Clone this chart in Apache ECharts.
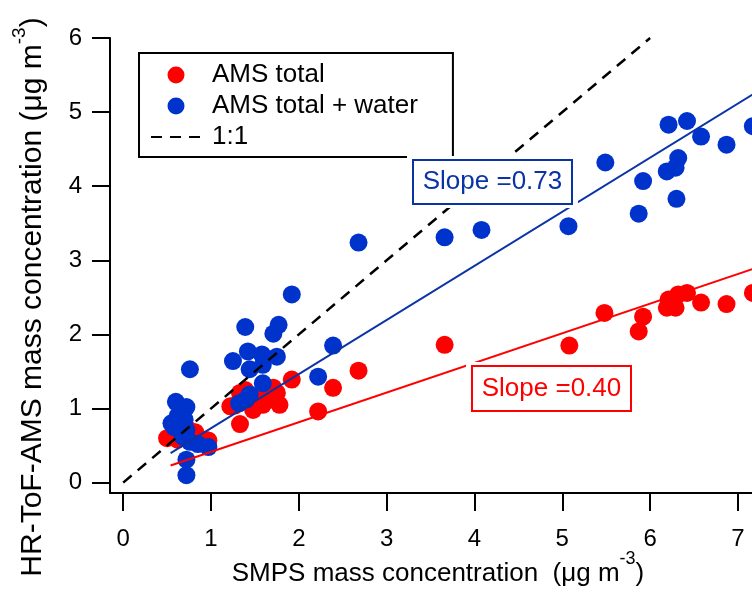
<!DOCTYPE html>
<html><head><meta charset="utf-8">
<script src="https://cdn.jsdelivr.net/npm/echarts@6/dist/echarts.min.js"></script>
<style>html,body{margin:0;padding:0;background:#fff}#c{width:752px;height:596px}</style>
</head><body><div id="c"></div>
<script>
// ---- data ----
const xTicks = [0, 1, 2, 3, 4, 5, 6, 7];
const yTicks = [0, 1, 2, 3, 4, 5, 6];
const seriesNames = ['AMS total', 'AMS total + water', '1:1'];
const amsTotal = [
  [0.50,0.60],[0.55,0.62],[0.62,0.58],[0.70,0.66],[0.75,0.71],[0.82,0.68],[0.93,0.58],[0.97,0.57],[0.65,0.72],
  [1.22,1.03],[1.27,1.04],[1.33,1.21],[1.33,0.79],[1.39,1.25],[1.48,0.98],[1.59,1.05],[1.71,1.28],[1.75,1.21],
  [1.78,1.05],[1.55,1.15],[1.65,1.12],[1.92,1.39],[2.22,0.96],[2.39,1.28],[2.68,1.51],[3.66,1.86],[5.08,1.85],
  [5.48,2.29],[5.87,2.04],[5.92,2.24],[6.19,2.36],[6.21,2.47],[6.29,2.36],[6.32,2.54],[6.42,2.56],[6.58,2.43],
  [6.87,2.41],[7.17,2.56]
];
const amsWater = [
  [0.55,0.80],[0.58,0.75],[0.60,1.09],[0.62,0.90],[0.65,0.70],[0.68,0.62],[0.70,0.85],[0.72,1.02],[0.72,0.71],
  [0.76,1.53],[0.76,0.55],[0.72,0.31],[0.72,0.10],[0.97,0.48],[0.85,0.52],[1.25,1.64],[1.32,1.07],[1.40,1.12],
  [1.44,1.19],[1.39,2.10],[1.42,1.77],[1.44,1.53],[1.58,1.73],[1.59,1.59],[1.59,1.34],[1.71,2.01],[1.75,1.70],
  [1.77,2.13],[1.92,2.54],[2.22,1.43],[2.39,1.85],[2.68,3.24],[3.66,3.31],[4.08,3.41],[5.07,3.46],[5.49,4.32],
  [5.87,3.63],[5.92,4.07],[6.19,4.20],[6.21,4.83],[6.29,4.25],[6.30,3.83],[6.32,4.38],[6.42,4.88],[6.58,4.67],
  [6.87,4.56],[7.17,4.81]
];
const oneToOne = [[0, 0], [6, 6]];
const fitRange = [0.54, 7.6];
const fitRed = {slope: 0.40, intercept: 0.015};
const fitBlue = {slope: 0.73, intercept: 0.005};
const slopeLabels = ['Slope =0.73', 'Slope =0.40'];

// ---- style ----
const RED = '#ff0000', BLUE = '#0033cc', BLUE_D = '#0a33a6';
const FONT = '"Liberation Sans", Arial, sans-serif';
const fitLine = f => fitRange.map(x => [x, f.slope * x + f.intercept]);

const chart = echarts.init(document.getElementById('c'), null, {renderer: 'canvas'});
const axisCommon = {
  type: 'value',
  splitLine: {show: false},
  axisLine: {show: true, onZero: false, lineStyle: {color: '#000', width: 2}},
  axisTick: {show: true, length: 18, lineStyle: {color: '#000', width: 2}},
};
const xTitleRich = {
  m: {fontSize: 26, fontFamily: FONT, color: '#000', lineHeight: 48},
  s: {fontSize: 18, fontFamily: FONT, color: '#000', lineHeight: 18, verticalAlign: 'top'}
};
const yTitleRich = {
  m: {fontSize: 30, fontFamily: FONT, color: '#000', lineHeight: 44},
  s: {fontSize: 19, fontFamily: FONT, color: '#000', lineHeight: 19, verticalAlign: 'top'}
};
function slopeBox(cx, cy, w, h, text, color) {
  return {
    type: 'group', z: 100,
    children: [
      {type: 'rect', z: 100, shape: {x: cx - w / 2 - 6, y: cy - h / 2 - 4, width: w + 12, height: h + 8}, style: {fill: '#fff'}},
      {type: 'rect', z: 101, shape: {x: cx - w / 2, y: cy - h / 2, width: w, height: h}, style: {fill: '#fff', stroke: color, lineWidth: 2}},
      {type: 'text', z: 102, x: cx, y: cy, style: {text: text, fill: color, font: '26px ' + FONT, align: 'center', verticalAlign: 'middle'}}
    ]
  };
}
chart.setOption({
  animation: false,
  backgroundColor: '#fff',
  grid: {left: 110, top: 38, right: 0, height: 455, containLabel: false},
  xAxis: Object.assign({}, axisCommon, {
    min: -0.15, max: 7.16,
    axisLabel: {customValues: xTicks, margin: 34, fontSize: 24, fontFamily: FONT, color: '#000'},
    axisTick: Object.assign({}, axisCommon.axisTick, {customValues: xTicks})
  }),
  yAxis: Object.assign({}, axisCommon, {
    min: -0.14, max: 6,
    axisLabel: {customValues: yTicks, margin: 28, fontSize: 24, fontFamily: FONT, color: '#000'},
    axisTick: Object.assign({}, axisCommon.axisTick, {customValues: yTicks})
  }),
  legend: {
    orient: 'vertical', left: 139, top: 53,
    data: [
      {name: seriesNames[0]},
      {name: seriesNames[1]},
      {name: seriesNames[2], itemStyle: {color: 'rgba(0,0,0,0)', borderWidth: 0, opacity: 0}}
    ],
    borderColor: '#000', borderWidth: 2, borderRadius: 0,
    padding: [9, 35, 7, 11], itemGap: 5,
    itemWidth: 50, itemHeight: 17,
    textStyle: {fontSize: 26, fontFamily: FONT, color: '#000', padding: [0, 0, 0, 6]},
    selectedMode: false
  },
  series: [
    {name: seriesNames[0], type: 'scatter', data: amsTotal, symbol: 'circle', symbolSize: 18, clip: false, itemStyle: {color: RED, opacity: 1}, z: 2},
    {name: seriesNames[1], type: 'scatter', data: amsWater, symbol: 'circle', symbolSize: 18, clip: false, itemStyle: {color: BLUE, opacity: 1}, z: 3},
    {name: seriesNames[2], type: 'line', data: oneToOne, symbol: 'none', clip: false, z: 5, itemStyle: {color: '#000'},
     lineStyle: {color: '#000', width: 2.5, type: [11, 8]}},
    {name: 'fitRed', type: 'line', data: fitLine(fitRed), symbol: 'none', clip: false, z: 5, lineStyle: {color: RED, width: 2}},
    {name: 'fitBlue', type: 'line', data: fitLine(fitBlue), symbol: 'none', clip: false, z: 5, lineStyle: {color: BLUE_D, width: 2}}
  ],
  graphic: [
    slopeBox(492.5, 182, 159, 44, slopeLabels[0], BLUE_D),
    slopeBox(551.5, 388.5, 159, 45, slopeLabels[1], RED),
    {type: 'text', z: 50, x: 438, y: 574, style: {
      text: '{m|SMPS mass concentration  (μg m}{s|-3}{m|)}', rich: xTitleRich, align: 'center', verticalAlign: 'middle'}},
    {type: 'text', z: 50, x: 32.5, y: 297, rotation: Math.PI / 2, style: {
      text: '{m|HR-ToF-AMS mass concentration (μg m}{s|-3}{m|)}', rich: yTitleRich, align: 'center', verticalAlign: 'middle'}}
  ]
});
</script>
</body></html>
